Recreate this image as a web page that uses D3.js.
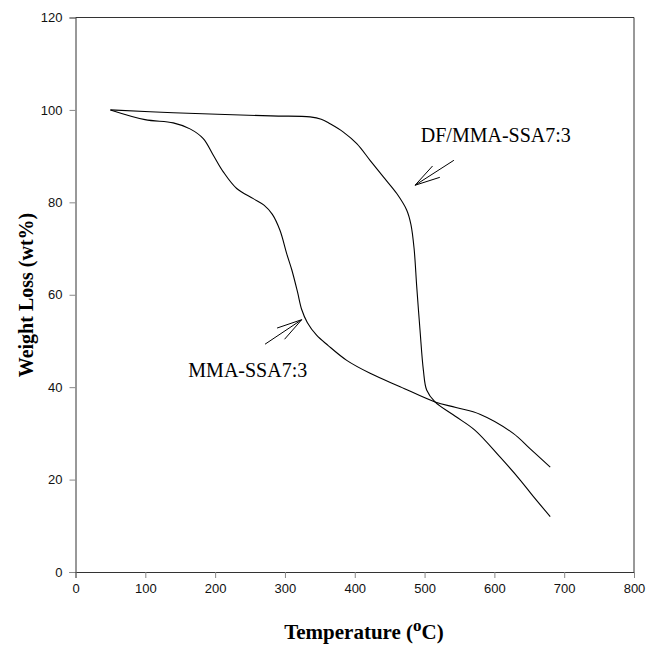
<!DOCTYPE html>
<html><head><meta charset="utf-8">
<script src="https://cdn.jsdelivr.net/npm/d3@7"></script>
<style>body{margin:0;background:#fff}svg{display:block}</style>
</head><body>
<svg id="c" width="649" height="646"></svg>
<script>
// ---- data ----
const xTicks = [0,100,200,300,400,500,600,700,800];
const yTicks = [0,20,40,60,80,100,120];
const mmaTemp = [50,99.6,140,164,183,197.4,211.7,230.9,254.7,270,282,293,302.5,310,318,324,332,345,362,388.5,422,465,515,545,580,627,651,680];
const mmaWeight = [100,97.9,97.2,95.9,93.8,90.2,86.6,83,80.8,79.4,77.4,73.9,68.9,65.3,60.6,56.8,54,51.3,49,45.8,43,40.1,36.8,35.6,34.1,30,26.7,22.7];
const dfTemp = [50,140,280,336,352,364.6,383.7,402.9,421.9,441,460.2,474.5,480.5,485,488.8,493.5,498.3,503,515,544,572,608,637,656,680];
const dfWeight = [100,99.4,98.7,98.5,98,97,95.2,92.7,89.1,85.5,81.9,78.3,75.2,70,61.7,52.3,43.7,39.4,36.8,33.7,30.7,24.9,19.9,16.3,12];
const labels = [
  {text:"DF/MMA-SSA7:3", x:494.6, y:93},
  {text:"MMA-SSA7:3", x:161.6, y:42.1}
];
const arrows = [
  {tailX:542, tailY:89.1, tipX:486.4, tipY:83.7},
  {tailX:271.5, tailY:49.3, tipX:324, tipY:54.6}
];

// ---- chart ----
const svg = d3.select("#c");
const L=75.5, R=634, T=17.5, B=572;
const x = d3.scaleLinear().domain([0,800]).range([L,R]);
const y = d3.scaleLinear().domain([0,120]).range([B,T]);

svg.append("path").attr("d",`M${L},${T}H${R}V${B}`).attr("fill","none").attr("stroke","#333").attr("stroke-width",1);

const xAxis = svg.append("g").attr("transform",`translate(0,${B})`)
  .call(d3.axisBottom(x).tickValues(xTicks).tickSize(6).tickPadding(6).tickFormat(d3.format("d")));
const yAxis = svg.append("g").attr("transform",`translate(${L},0)`)
  .call(d3.axisLeft(y).tickValues(yTicks).tickSize(6).tickPadding(7).tickFormat(d3.format("d")));
[xAxis,yAxis].forEach(a=>{
  a.select(".domain").attr("stroke","#333");
  a.selectAll(".tick line").attr("stroke","#888");
  a.selectAll(".tick text").attr("font-family","Liberation Sans, Arial, sans-serif").attr("font-size",13).attr("fill","#111");
});

const line = d3.line().x(d=>x(d[0])).y(d=>y(d[1])).curve(d3.curveCatmullRom.alpha(0.5));
const mma = mmaTemp.map((t,i)=>[t,mmaWeight[i]]);
const df = dfTemp.map((t,i)=>[t,dfWeight[i]]);
[mma,df].forEach(s=>{
  svg.append("path").datum(s).attr("d",line).attr("fill","none").attr("stroke","#000").attr("stroke-width",1.1);
});

labels.forEach(l=>{
  svg.append("text").attr("x",x(l.x)).attr("y",y(l.y)).text(l.text)
    .attr("font-family","Liberation Serif, Times New Roman, serif").attr("font-size",20).attr("fill","#000");
});
arrows.forEach(a=>{
  const x1=x(a.tailX), y1=y(a.tailY), x2=x(a.tipX), y2=y(a.tipY);
  const ang=Math.atan2(y1-y2,x1-x2), hl=26, ha=15*Math.PI/180;
  const p=d3.path();
  p.moveTo(x1,y1); p.lineTo(x2,y2);
  p.moveTo(x2+hl*Math.cos(ang+ha), y2+hl*Math.sin(ang+ha)); p.lineTo(x2,y2);
  p.lineTo(x2+hl*Math.cos(ang-ha), y2+hl*Math.sin(ang-ha));
  svg.append("path").attr("d",p.toString()).attr("fill","none").attr("stroke","#000").attr("stroke-width",1);
});

const xt = svg.append("text").attr("x",364).attr("y",639).attr("text-anchor","middle")
  .attr("font-family","Liberation Serif, Times New Roman, serif").attr("font-weight","bold").attr("font-size",21).attr("fill","#000");
xt.append("tspan").text("Temperature (");
xt.append("tspan").text("o").attr("font-size",17).attr("dy",-8);
xt.append("tspan").text("C)").attr("dy",8);

svg.append("text").attr("transform","translate(33,295) rotate(-90)").attr("text-anchor","middle")
  .attr("font-family","Liberation Serif, Times New Roman, serif").attr("font-weight","bold").attr("font-size",20).attr("fill","#000")
  .text("Weight Loss (wt%)");
</script>
</body></html>
